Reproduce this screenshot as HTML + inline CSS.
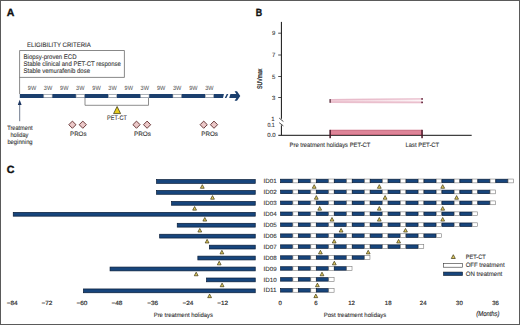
<!DOCTYPE html>
<html><head><meta charset="utf-8"><style>
html,body{margin:0;padding:0;background:#fff;}
#fig{position:relative;width:518px;height:323px;border:1px solid #5a5a5a;overflow:hidden;background:#fff;}
svg{position:absolute;left:-1px;top:-1px;}
svg text{font-family:"Liberation Sans", sans-serif;text-rendering:geometricPrecision;}
</style></head><body>
<div id="fig"><svg width="520" height="325" viewBox="0 0 520 325">
<text x="6.80" y="15.80" font-size="10.4" fill="#111" stroke="#111" stroke-width="0.35" text-anchor="start" font-weight="bold" font-style="normal" textLength="7.60" lengthAdjust="spacingAndGlyphs">A</text>
<text x="27.00" y="46.80" font-size="6.5" fill="#333" stroke="#333" stroke-width="0.1" text-anchor="start" font-weight="normal" font-style="normal" textLength="63.80" lengthAdjust="spacingAndGlyphs">ELIGIBILITY CRITERIA</text>
<path d="M19.6,94 V50.5 H124.4 V77.4 H19.6" fill="none" stroke="#6a6a6a" stroke-width="0.8"/>
<text x="23.60" y="58.50" font-size="6.7" fill="#333" stroke="#333" stroke-width="0.1" text-anchor="start" font-weight="normal" font-style="normal" textLength="53.00" lengthAdjust="spacingAndGlyphs">Biopsy-proven ECD</text>
<text x="23.60" y="65.90" font-size="6.7" fill="#333" stroke="#333" stroke-width="0.1" text-anchor="start" font-weight="normal" font-style="normal" textLength="97.20" lengthAdjust="spacingAndGlyphs">Stable clinical and PET-CT response</text>
<text x="23.60" y="73.20" font-size="6.7" fill="#333" stroke="#333" stroke-width="0.1" text-anchor="start" font-weight="normal" font-style="normal" textLength="66.40" lengthAdjust="spacingAndGlyphs">Stable vemurafenib dose</text>
<polygon points="19.8,93.9 223.9,93.9 223.0,98.0 19.8,98.0" fill="#1b3f6e"/>
<rect x="43.80" y="94.40" width="8.3" height="3.10" fill="#fff" stroke="#b0b0b0" stroke-width="0.6"/>
<rect x="76.10" y="94.40" width="8.3" height="3.10" fill="#fff" stroke="#b0b0b0" stroke-width="0.6"/>
<rect x="108.40" y="94.40" width="8.3" height="3.10" fill="#fff" stroke="#b0b0b0" stroke-width="0.6"/>
<rect x="140.70" y="94.40" width="8.3" height="3.10" fill="#fff" stroke="#b0b0b0" stroke-width="0.6"/>
<rect x="173.00" y="94.40" width="8.3" height="3.10" fill="#fff" stroke="#b0b0b0" stroke-width="0.6"/>
<rect x="205.30" y="94.40" width="8.3" height="3.10" fill="#fff" stroke="#b0b0b0" stroke-width="0.6"/>
<polygon points="226.7,93.9 228.3,93.9 226.4,98.0 224.8,98.0" fill="#1b3f6e"/>
<polygon points="230.4,93.9 236.3,93.9 234.6,91.3 237.0,91.3 240.3,95.95 237.0,100.7 234.6,100.7 236.3,98.0 229.2,98.0" fill="#1b3f6e"/>
<text x="32.00" y="90.20" font-size="6.2" fill="#5a5a5a" stroke="#5a5a5a" stroke-width="0.05" text-anchor="middle" font-weight="normal" font-style="normal" textLength="8.40" lengthAdjust="spacingAndGlyphs">9W</text>
<text x="48.00" y="90.20" font-size="6.2" fill="#5a5a5a" stroke="#5a5a5a" stroke-width="0.05" text-anchor="middle" font-weight="normal" font-style="normal" textLength="8.40" lengthAdjust="spacingAndGlyphs">3W</text>
<text x="64.27" y="90.20" font-size="6.2" fill="#5a5a5a" stroke="#5a5a5a" stroke-width="0.05" text-anchor="middle" font-weight="normal" font-style="normal" textLength="8.40" lengthAdjust="spacingAndGlyphs">9W</text>
<text x="80.27" y="90.20" font-size="6.2" fill="#5a5a5a" stroke="#5a5a5a" stroke-width="0.05" text-anchor="middle" font-weight="normal" font-style="normal" textLength="8.40" lengthAdjust="spacingAndGlyphs">3W</text>
<text x="96.54" y="90.20" font-size="6.2" fill="#5a5a5a" stroke="#5a5a5a" stroke-width="0.05" text-anchor="middle" font-weight="normal" font-style="normal" textLength="8.40" lengthAdjust="spacingAndGlyphs">9W</text>
<text x="112.54" y="90.20" font-size="6.2" fill="#5a5a5a" stroke="#5a5a5a" stroke-width="0.05" text-anchor="middle" font-weight="normal" font-style="normal" textLength="8.40" lengthAdjust="spacingAndGlyphs">3W</text>
<text x="128.81" y="90.20" font-size="6.2" fill="#5a5a5a" stroke="#5a5a5a" stroke-width="0.05" text-anchor="middle" font-weight="normal" font-style="normal" textLength="8.40" lengthAdjust="spacingAndGlyphs">9W</text>
<text x="144.81" y="90.20" font-size="6.2" fill="#5a5a5a" stroke="#5a5a5a" stroke-width="0.05" text-anchor="middle" font-weight="normal" font-style="normal" textLength="8.40" lengthAdjust="spacingAndGlyphs">3W</text>
<text x="161.08" y="90.20" font-size="6.2" fill="#5a5a5a" stroke="#5a5a5a" stroke-width="0.05" text-anchor="middle" font-weight="normal" font-style="normal" textLength="8.40" lengthAdjust="spacingAndGlyphs">9W</text>
<text x="177.08" y="90.20" font-size="6.2" fill="#5a5a5a" stroke="#5a5a5a" stroke-width="0.05" text-anchor="middle" font-weight="normal" font-style="normal" textLength="8.40" lengthAdjust="spacingAndGlyphs">3W</text>
<text x="193.35" y="90.20" font-size="6.2" fill="#5a5a5a" stroke="#5a5a5a" stroke-width="0.05" text-anchor="middle" font-weight="normal" font-style="normal" textLength="8.40" lengthAdjust="spacingAndGlyphs">9W</text>
<text x="209.35" y="90.20" font-size="6.2" fill="#5a5a5a" stroke="#5a5a5a" stroke-width="0.05" text-anchor="middle" font-weight="normal" font-style="normal" textLength="8.40" lengthAdjust="spacingAndGlyphs">3W</text>
<path d="M85,98 V105.3 H148.5 V98" fill="none" stroke="#7a7a7a" stroke-width="0.85"/>
<polygon points="117.10,106.50 113.60,113.60 120.60,113.60" fill="#e6cc1e" stroke="#3a3410" stroke-width="0.75" stroke-linejoin="round"/>
<text x="107.10" y="120.40" font-size="6.6" fill="#333" stroke="#333" stroke-width="0.1" text-anchor="start" font-weight="normal" font-style="normal" textLength="19.80" lengthAdjust="spacingAndGlyphs">PET-CT</text>
<polygon points="72.4,121.10000000000001 76.0,124.7 72.4,128.3 68.80000000000001,124.7" fill="#ebc8c8" stroke="#5e2a2a" stroke-width="0.9"/>
<polygon points="82.8,121.10000000000001 86.39999999999999,124.7 82.8,128.3 79.2,124.7" fill="#ebc8c8" stroke="#5e2a2a" stroke-width="0.9"/>
<polygon points="136.5,121.10000000000001 140.1,124.7 136.5,128.3 132.9,124.7" fill="#ebc8c8" stroke="#5e2a2a" stroke-width="0.9"/>
<polygon points="147.1,121.10000000000001 150.7,124.7 147.1,128.3 143.5,124.7" fill="#ebc8c8" stroke="#5e2a2a" stroke-width="0.9"/>
<polygon points="203.7,121.10000000000001 207.29999999999998,124.7 203.7,128.3 200.1,124.7" fill="#ebc8c8" stroke="#5e2a2a" stroke-width="0.9"/>
<polygon points="214.0,121.10000000000001 217.6,124.7 214.0,128.3 210.4,124.7" fill="#ebc8c8" stroke="#5e2a2a" stroke-width="0.9"/>
<text x="70.00" y="135.80" font-size="6.4" fill="#333" stroke="#333" stroke-width="0.1" text-anchor="start" font-weight="normal" font-style="normal" textLength="16.50" lengthAdjust="spacingAndGlyphs">PROs</text>
<text x="134.00" y="135.80" font-size="6.4" fill="#333" stroke="#333" stroke-width="0.1" text-anchor="start" font-weight="normal" font-style="normal" textLength="17.00" lengthAdjust="spacingAndGlyphs">PROs</text>
<text x="201.20" y="135.80" font-size="6.4" fill="#333" stroke="#333" stroke-width="0.1" text-anchor="start" font-weight="normal" font-style="normal" textLength="16.80" lengthAdjust="spacingAndGlyphs">PROs</text>
<line x1="19.7" y1="121.2" x2="19.7" y2="104" stroke="#4a5870" stroke-width="0.8"/>
<polygon points="19.7,99.8 17.8,104.9 21.6,104.9" fill="#1b3560"/>
<text x="7.20" y="130.20" font-size="6.3" fill="#333" stroke="#333" stroke-width="0.1" text-anchor="start" font-weight="normal" font-style="normal" textLength="25.40" lengthAdjust="spacingAndGlyphs">Treatment</text>
<text x="10.40" y="137.20" font-size="6.3" fill="#333" stroke="#333" stroke-width="0.1" text-anchor="start" font-weight="normal" font-style="normal" textLength="18.00" lengthAdjust="spacingAndGlyphs">holiday</text>
<text x="7.40" y="144.20" font-size="6.3" fill="#333" stroke="#333" stroke-width="0.1" text-anchor="start" font-weight="normal" font-style="normal" textLength="25.20" lengthAdjust="spacingAndGlyphs">beginning</text>
<text x="255.70" y="15.90" font-size="10.4" fill="#111" stroke="#111" stroke-width="0.35" text-anchor="start" font-weight="bold" font-style="normal" textLength="6.40" lengthAdjust="spacingAndGlyphs">B</text>
<line x1="281.4" y1="21.9" x2="281.4" y2="118.8" stroke="#111" stroke-width="1.0"/>
<line x1="281.4" y1="125.3" x2="281.4" y2="135.1" stroke="#111" stroke-width="1.0"/>
<line x1="279.2" y1="118.1" x2="283.4" y2="121.5" stroke="#222" stroke-width="0.8"/>
<line x1="279.2" y1="122.7" x2="283.4" y2="125.9" stroke="#222" stroke-width="0.8"/>
<line x1="278.2" y1="33.2" x2="281.4" y2="33.2" stroke="#222" stroke-width="0.8"/>
<text x="275.30" y="35.30" font-size="6.0" fill="#333" stroke="#333" stroke-width="0.1" text-anchor="end" font-weight="normal" font-style="normal">9</text>
<line x1="278.2" y1="55.0" x2="281.4" y2="55.0" stroke="#222" stroke-width="0.8"/>
<text x="275.30" y="57.10" font-size="6.0" fill="#333" stroke="#333" stroke-width="0.1" text-anchor="end" font-weight="normal" font-style="normal">7</text>
<line x1="278.2" y1="76.5" x2="281.4" y2="76.5" stroke="#222" stroke-width="0.8"/>
<text x="275.30" y="78.60" font-size="6.0" fill="#333" stroke="#333" stroke-width="0.1" text-anchor="end" font-weight="normal" font-style="normal">5</text>
<line x1="278.2" y1="97.5" x2="281.4" y2="97.5" stroke="#222" stroke-width="0.8"/>
<text x="275.30" y="99.60" font-size="6.0" fill="#333" stroke="#333" stroke-width="0.1" text-anchor="end" font-weight="normal" font-style="normal">3</text>
<text x="274.60" y="120.80" font-size="6.0" fill="#333" stroke="#333" stroke-width="0.1" text-anchor="end" font-weight="normal" font-style="normal">1</text>
<text x="274.80" y="127.10" font-size="6.0" fill="#333" stroke="#333" stroke-width="0.1" text-anchor="end" font-weight="normal" font-style="normal" textLength="7.40" lengthAdjust="spacingAndGlyphs">0.1</text>
<text x="275.70" y="137.10" font-size="6.0" fill="#333" stroke="#333" stroke-width="0.1" text-anchor="end" font-weight="normal" font-style="normal" textLength="8.40" lengthAdjust="spacingAndGlyphs">0.0</text>
<line x1="278.3" y1="135.3" x2="471.7" y2="135.3" stroke="#111" stroke-width="1.0"/>
<text x="0" y="0" font-size="6.8" fill="#2a2a2a" stroke="#2a2a2a" stroke-width="0.3" text-anchor="middle" transform="translate(261.5,78.8) rotate(-90)" textLength="20.3" lengthAdjust="spacingAndGlyphs">SUVmax</text>
<defs><linearGradient id="pg" x1="0" x2="1" y1="0" y2="0"><stop offset="0" stop-color="#f1ccd7"/><stop offset="0.5" stop-color="#f6e0e7"/><stop offset="1" stop-color="#fdf6f8"/></linearGradient></defs>
<polygon points="330.5,99.0 422.2,98.3 422.2,103.5 330.5,102.9" fill="url(#pg)"/>
<line x1="330.5" y1="99.6" x2="422.2" y2="98.9" stroke="#e8bccb" stroke-width="1.1"/>
<line x1="330.5" y1="102.2" x2="422.2" y2="102.3" stroke="#eabfcd" stroke-width="1.8"/>
<rect x="421.3" y="98.2" width="1.6" height="1.5" fill="#5a1a30"/>
<rect x="421.3" y="101.6" width="1.6" height="1.6" fill="#5a1a30"/>
<rect x="329.5" y="99.1" width="1.2" height="3.7" fill="#4a1828"/>
<rect x="330.5" y="129.8" width="91.7" height="5.2" fill="#de8498"/>
<line x1="330.5" y1="130.4" x2="422.2" y2="130.4" stroke="#c97487" stroke-width="0.9"/>
<line x1="330.5" y1="134.6" x2="422.2" y2="134.6" stroke="#b05468" stroke-width="0.6"/>
<rect x="329.4" y="129.8" width="1.5" height="8.4" fill="#4a1626"/>
<rect x="421.3" y="129.8" width="1.5" height="8.4" fill="#4a1626"/>
<text x="289.60" y="146.60" font-size="6.3" fill="#333" stroke="#333" stroke-width="0.1" text-anchor="start" font-weight="normal" font-style="normal" textLength="80.80" lengthAdjust="spacingAndGlyphs">Pre treatment holidays PET-CT</text>
<text x="405.50" y="146.60" font-size="6.3" fill="#333" stroke="#333" stroke-width="0.1" text-anchor="start" font-weight="normal" font-style="normal" textLength="33.70" lengthAdjust="spacingAndGlyphs">Last PET-CT</text>
<text x="6.80" y="173.00" font-size="10.4" fill="#111" stroke="#111" stroke-width="0.35" text-anchor="start" font-weight="bold" font-style="normal" textLength="7.70" lengthAdjust="spacingAndGlyphs">C</text>
<rect x="156.55" y="179.55" width="98.70" height="3.80" fill="#17457c" stroke="#081c38" stroke-width="0.7"/>
<rect x="280.65" y="179.20" width="11.90" height="3.50" fill="#17457c" stroke="#081c38" stroke-width="0.7"/>
<rect x="292.90" y="179.05" width="5.33" height="3.80" fill="#fff" stroke="#7a7a7a" stroke-width="0.6"/>
<rect x="298.58" y="179.20" width="11.90" height="3.50" fill="#17457c" stroke="#081c38" stroke-width="0.7"/>
<rect x="310.83" y="179.05" width="5.33" height="3.80" fill="#fff" stroke="#7a7a7a" stroke-width="0.6"/>
<rect x="316.51" y="179.20" width="11.90" height="3.50" fill="#17457c" stroke="#081c38" stroke-width="0.7"/>
<rect x="328.76" y="179.05" width="5.33" height="3.80" fill="#fff" stroke="#7a7a7a" stroke-width="0.6"/>
<rect x="334.44" y="179.20" width="11.90" height="3.50" fill="#17457c" stroke="#081c38" stroke-width="0.7"/>
<rect x="346.69" y="179.05" width="5.33" height="3.80" fill="#fff" stroke="#7a7a7a" stroke-width="0.6"/>
<rect x="352.37" y="179.20" width="11.90" height="3.50" fill="#17457c" stroke="#081c38" stroke-width="0.7"/>
<rect x="364.62" y="179.05" width="5.33" height="3.80" fill="#fff" stroke="#7a7a7a" stroke-width="0.6"/>
<rect x="370.30" y="179.20" width="11.90" height="3.50" fill="#17457c" stroke="#081c38" stroke-width="0.7"/>
<rect x="382.55" y="179.05" width="5.33" height="3.80" fill="#fff" stroke="#7a7a7a" stroke-width="0.6"/>
<rect x="388.23" y="179.20" width="11.90" height="3.50" fill="#17457c" stroke="#081c38" stroke-width="0.7"/>
<rect x="400.48" y="179.05" width="5.33" height="3.80" fill="#fff" stroke="#7a7a7a" stroke-width="0.6"/>
<rect x="406.16" y="179.20" width="11.90" height="3.50" fill="#17457c" stroke="#081c38" stroke-width="0.7"/>
<rect x="418.41" y="179.05" width="5.33" height="3.80" fill="#fff" stroke="#7a7a7a" stroke-width="0.6"/>
<rect x="424.09" y="179.20" width="11.90" height="3.50" fill="#17457c" stroke="#081c38" stroke-width="0.7"/>
<rect x="436.34" y="179.05" width="5.33" height="3.80" fill="#fff" stroke="#7a7a7a" stroke-width="0.6"/>
<rect x="442.02" y="179.20" width="11.90" height="3.50" fill="#17457c" stroke="#081c38" stroke-width="0.7"/>
<rect x="454.27" y="179.05" width="5.33" height="3.80" fill="#fff" stroke="#7a7a7a" stroke-width="0.6"/>
<rect x="459.95" y="179.20" width="11.90" height="3.50" fill="#17457c" stroke="#081c38" stroke-width="0.7"/>
<rect x="472.20" y="179.05" width="5.33" height="3.80" fill="#fff" stroke="#7a7a7a" stroke-width="0.6"/>
<rect x="477.88" y="179.20" width="11.90" height="3.50" fill="#17457c" stroke="#081c38" stroke-width="0.7"/>
<rect x="490.13" y="179.05" width="5.33" height="3.80" fill="#fff" stroke="#7a7a7a" stroke-width="0.6"/>
<rect x="495.81" y="179.20" width="11.90" height="3.50" fill="#17457c" stroke="#081c38" stroke-width="0.7"/>
<rect x="508.06" y="179.05" width="5.33" height="3.80" fill="#fff" stroke="#7a7a7a" stroke-width="0.6"/>
<text x="263.60" y="183.05" font-size="6.0" fill="#333" stroke="#333" stroke-width="0.1" text-anchor="start" font-weight="normal" font-style="normal" textLength="13.10" lengthAdjust="spacingAndGlyphs">ID01</text>
<polygon points="202.30,184.65 200.40,188.25 204.20,188.25" fill="#e2cc5e" stroke="#3b3412" stroke-width="0.7" stroke-linejoin="round"/>
<polygon points="314.20,184.65 312.30,188.25 316.10,188.25" fill="#e2cc5e" stroke="#3b3412" stroke-width="0.7" stroke-linejoin="round"/>
<polygon points="379.30,184.65 377.40,188.25 381.20,188.25" fill="#e2cc5e" stroke="#3b3412" stroke-width="0.7" stroke-linejoin="round"/>
<polygon points="442.70,184.65 440.80,188.25 444.60,188.25" fill="#e2cc5e" stroke="#3b3412" stroke-width="0.7" stroke-linejoin="round"/>
<rect x="156.55" y="190.49" width="98.70" height="3.80" fill="#17457c" stroke="#081c38" stroke-width="0.7"/>
<rect x="280.65" y="190.14" width="11.90" height="3.50" fill="#17457c" stroke="#081c38" stroke-width="0.7"/>
<rect x="292.90" y="189.99" width="5.33" height="3.80" fill="#fff" stroke="#7a7a7a" stroke-width="0.6"/>
<rect x="298.58" y="190.14" width="11.90" height="3.50" fill="#17457c" stroke="#081c38" stroke-width="0.7"/>
<rect x="310.83" y="189.99" width="5.33" height="3.80" fill="#fff" stroke="#7a7a7a" stroke-width="0.6"/>
<rect x="316.51" y="190.14" width="11.90" height="3.50" fill="#17457c" stroke="#081c38" stroke-width="0.7"/>
<rect x="328.76" y="189.99" width="5.33" height="3.80" fill="#fff" stroke="#7a7a7a" stroke-width="0.6"/>
<rect x="334.44" y="190.14" width="11.90" height="3.50" fill="#17457c" stroke="#081c38" stroke-width="0.7"/>
<rect x="346.69" y="189.99" width="5.33" height="3.80" fill="#fff" stroke="#7a7a7a" stroke-width="0.6"/>
<rect x="352.37" y="190.14" width="11.90" height="3.50" fill="#17457c" stroke="#081c38" stroke-width="0.7"/>
<rect x="364.62" y="189.99" width="5.33" height="3.80" fill="#fff" stroke="#7a7a7a" stroke-width="0.6"/>
<rect x="370.30" y="190.14" width="11.90" height="3.50" fill="#17457c" stroke="#081c38" stroke-width="0.7"/>
<rect x="382.55" y="189.99" width="5.33" height="3.80" fill="#fff" stroke="#7a7a7a" stroke-width="0.6"/>
<rect x="388.23" y="190.14" width="11.90" height="3.50" fill="#17457c" stroke="#081c38" stroke-width="0.7"/>
<rect x="400.48" y="189.99" width="5.33" height="3.80" fill="#fff" stroke="#7a7a7a" stroke-width="0.6"/>
<rect x="406.16" y="190.14" width="11.90" height="3.50" fill="#17457c" stroke="#081c38" stroke-width="0.7"/>
<rect x="418.41" y="189.99" width="5.33" height="3.80" fill="#fff" stroke="#7a7a7a" stroke-width="0.6"/>
<rect x="424.09" y="190.14" width="11.90" height="3.50" fill="#17457c" stroke="#081c38" stroke-width="0.7"/>
<rect x="436.34" y="189.99" width="5.33" height="3.80" fill="#fff" stroke="#7a7a7a" stroke-width="0.6"/>
<rect x="442.02" y="190.14" width="11.90" height="3.50" fill="#17457c" stroke="#081c38" stroke-width="0.7"/>
<rect x="454.27" y="189.99" width="5.33" height="3.80" fill="#fff" stroke="#7a7a7a" stroke-width="0.6"/>
<rect x="459.95" y="190.14" width="11.90" height="3.50" fill="#17457c" stroke="#081c38" stroke-width="0.7"/>
<rect x="472.20" y="189.99" width="5.33" height="3.80" fill="#fff" stroke="#7a7a7a" stroke-width="0.6"/>
<rect x="477.88" y="190.14" width="11.90" height="3.50" fill="#17457c" stroke="#081c38" stroke-width="0.7"/>
<rect x="490.13" y="189.99" width="5.33" height="3.80" fill="#fff" stroke="#7a7a7a" stroke-width="0.6"/>
<text x="263.60" y="193.99" font-size="6.0" fill="#333" stroke="#333" stroke-width="0.1" text-anchor="start" font-weight="normal" font-style="normal" textLength="13.10" lengthAdjust="spacingAndGlyphs">ID02</text>
<polygon points="212.50,195.59 210.60,199.19 214.40,199.19" fill="#e2cc5e" stroke="#3b3412" stroke-width="0.7" stroke-linejoin="round"/>
<polygon points="316.30,195.59 314.40,199.19 318.20,199.19" fill="#e2cc5e" stroke="#3b3412" stroke-width="0.7" stroke-linejoin="round"/>
<polygon points="385.10,195.59 383.20,199.19 387.00,199.19" fill="#e2cc5e" stroke="#3b3412" stroke-width="0.7" stroke-linejoin="round"/>
<polygon points="456.60,195.59 454.70,199.19 458.50,199.19" fill="#e2cc5e" stroke="#3b3412" stroke-width="0.7" stroke-linejoin="round"/>
<rect x="171.55" y="201.43" width="83.70" height="3.80" fill="#17457c" stroke="#081c38" stroke-width="0.7"/>
<rect x="280.65" y="201.08" width="11.90" height="3.50" fill="#17457c" stroke="#081c38" stroke-width="0.7"/>
<rect x="292.90" y="200.93" width="5.33" height="3.80" fill="#fff" stroke="#7a7a7a" stroke-width="0.6"/>
<rect x="298.58" y="201.08" width="11.90" height="3.50" fill="#17457c" stroke="#081c38" stroke-width="0.7"/>
<rect x="310.83" y="200.93" width="5.33" height="3.80" fill="#fff" stroke="#7a7a7a" stroke-width="0.6"/>
<rect x="316.51" y="201.08" width="11.90" height="3.50" fill="#17457c" stroke="#081c38" stroke-width="0.7"/>
<rect x="328.76" y="200.93" width="5.33" height="3.80" fill="#fff" stroke="#7a7a7a" stroke-width="0.6"/>
<rect x="334.44" y="201.08" width="11.90" height="3.50" fill="#17457c" stroke="#081c38" stroke-width="0.7"/>
<rect x="346.69" y="200.93" width="5.33" height="3.80" fill="#fff" stroke="#7a7a7a" stroke-width="0.6"/>
<rect x="352.37" y="201.08" width="11.90" height="3.50" fill="#17457c" stroke="#081c38" stroke-width="0.7"/>
<rect x="364.62" y="200.93" width="5.33" height="3.80" fill="#fff" stroke="#7a7a7a" stroke-width="0.6"/>
<rect x="370.30" y="201.08" width="11.90" height="3.50" fill="#17457c" stroke="#081c38" stroke-width="0.7"/>
<rect x="382.55" y="200.93" width="5.33" height="3.80" fill="#fff" stroke="#7a7a7a" stroke-width="0.6"/>
<rect x="388.23" y="201.08" width="11.90" height="3.50" fill="#17457c" stroke="#081c38" stroke-width="0.7"/>
<rect x="400.48" y="200.93" width="5.33" height="3.80" fill="#fff" stroke="#7a7a7a" stroke-width="0.6"/>
<rect x="406.16" y="201.08" width="11.90" height="3.50" fill="#17457c" stroke="#081c38" stroke-width="0.7"/>
<rect x="418.41" y="200.93" width="5.33" height="3.80" fill="#fff" stroke="#7a7a7a" stroke-width="0.6"/>
<rect x="424.09" y="201.08" width="11.90" height="3.50" fill="#17457c" stroke="#081c38" stroke-width="0.7"/>
<rect x="436.34" y="200.93" width="5.33" height="3.80" fill="#fff" stroke="#7a7a7a" stroke-width="0.6"/>
<rect x="442.02" y="201.08" width="11.90" height="3.50" fill="#17457c" stroke="#081c38" stroke-width="0.7"/>
<rect x="454.27" y="200.93" width="5.33" height="3.80" fill="#fff" stroke="#7a7a7a" stroke-width="0.6"/>
<rect x="459.95" y="201.08" width="11.90" height="3.50" fill="#17457c" stroke="#081c38" stroke-width="0.7"/>
<rect x="472.20" y="200.93" width="5.33" height="3.80" fill="#fff" stroke="#7a7a7a" stroke-width="0.6"/>
<rect x="477.88" y="201.08" width="11.90" height="3.50" fill="#17457c" stroke="#081c38" stroke-width="0.7"/>
<rect x="490.13" y="200.93" width="5.33" height="3.80" fill="#fff" stroke="#7a7a7a" stroke-width="0.6"/>
<text x="263.60" y="204.93" font-size="6.0" fill="#333" stroke="#333" stroke-width="0.1" text-anchor="start" font-weight="normal" font-style="normal" textLength="13.10" lengthAdjust="spacingAndGlyphs">ID03</text>
<polygon points="194.60,206.53 192.70,210.13 196.50,210.13" fill="#e2cc5e" stroke="#3b3412" stroke-width="0.7" stroke-linejoin="round"/>
<polygon points="319.70,206.53 317.80,210.13 321.60,210.13" fill="#e2cc5e" stroke="#3b3412" stroke-width="0.7" stroke-linejoin="round"/>
<polygon points="379.30,206.53 377.40,210.13 381.20,210.13" fill="#e2cc5e" stroke="#3b3412" stroke-width="0.7" stroke-linejoin="round"/>
<polygon points="442.70,206.53 440.80,210.13 444.60,210.13" fill="#e2cc5e" stroke="#3b3412" stroke-width="0.7" stroke-linejoin="round"/>
<rect x="13.25" y="212.37" width="242.00" height="3.80" fill="#17457c" stroke="#081c38" stroke-width="0.7"/>
<rect x="280.65" y="212.02" width="11.90" height="3.50" fill="#17457c" stroke="#081c38" stroke-width="0.7"/>
<rect x="292.90" y="211.87" width="5.33" height="3.80" fill="#fff" stroke="#7a7a7a" stroke-width="0.6"/>
<rect x="298.58" y="212.02" width="11.90" height="3.50" fill="#17457c" stroke="#081c38" stroke-width="0.7"/>
<rect x="310.83" y="211.87" width="5.33" height="3.80" fill="#fff" stroke="#7a7a7a" stroke-width="0.6"/>
<rect x="316.51" y="212.02" width="11.90" height="3.50" fill="#17457c" stroke="#081c38" stroke-width="0.7"/>
<rect x="328.76" y="211.87" width="5.33" height="3.80" fill="#fff" stroke="#7a7a7a" stroke-width="0.6"/>
<rect x="334.44" y="212.02" width="11.90" height="3.50" fill="#17457c" stroke="#081c38" stroke-width="0.7"/>
<rect x="346.69" y="211.87" width="5.33" height="3.80" fill="#fff" stroke="#7a7a7a" stroke-width="0.6"/>
<rect x="352.37" y="212.02" width="11.90" height="3.50" fill="#17457c" stroke="#081c38" stroke-width="0.7"/>
<rect x="364.62" y="211.87" width="5.33" height="3.80" fill="#fff" stroke="#7a7a7a" stroke-width="0.6"/>
<rect x="370.30" y="212.02" width="11.90" height="3.50" fill="#17457c" stroke="#081c38" stroke-width="0.7"/>
<rect x="382.55" y="211.87" width="5.33" height="3.80" fill="#fff" stroke="#7a7a7a" stroke-width="0.6"/>
<rect x="388.23" y="212.02" width="11.90" height="3.50" fill="#17457c" stroke="#081c38" stroke-width="0.7"/>
<rect x="400.48" y="211.87" width="5.33" height="3.80" fill="#fff" stroke="#7a7a7a" stroke-width="0.6"/>
<rect x="406.16" y="212.02" width="11.90" height="3.50" fill="#17457c" stroke="#081c38" stroke-width="0.7"/>
<rect x="418.41" y="211.87" width="5.33" height="3.80" fill="#fff" stroke="#7a7a7a" stroke-width="0.6"/>
<rect x="424.09" y="212.02" width="11.90" height="3.50" fill="#17457c" stroke="#081c38" stroke-width="0.7"/>
<rect x="436.34" y="211.87" width="5.33" height="3.80" fill="#fff" stroke="#7a7a7a" stroke-width="0.6"/>
<rect x="442.02" y="212.02" width="11.90" height="3.50" fill="#17457c" stroke="#081c38" stroke-width="0.7"/>
<rect x="454.27" y="211.87" width="5.33" height="3.80" fill="#fff" stroke="#7a7a7a" stroke-width="0.6"/>
<rect x="459.95" y="212.02" width="11.90" height="3.50" fill="#17457c" stroke="#081c38" stroke-width="0.7"/>
<rect x="472.20" y="211.87" width="5.33" height="3.80" fill="#fff" stroke="#7a7a7a" stroke-width="0.6"/>
<text x="263.60" y="215.87" font-size="6.0" fill="#333" stroke="#333" stroke-width="0.1" text-anchor="start" font-weight="normal" font-style="normal" textLength="13.10" lengthAdjust="spacingAndGlyphs">ID04</text>
<polygon points="204.80,217.47 202.90,221.07 206.70,221.07" fill="#e2cc5e" stroke="#3b3412" stroke-width="0.7" stroke-linejoin="round"/>
<polygon points="332.00,217.47 330.10,221.07 333.90,221.07" fill="#e2cc5e" stroke="#3b3412" stroke-width="0.7" stroke-linejoin="round"/>
<polygon points="379.30,217.47 377.40,221.07 381.20,221.07" fill="#e2cc5e" stroke="#3b3412" stroke-width="0.7" stroke-linejoin="round"/>
<polygon points="442.70,217.47 440.80,221.07 444.60,221.07" fill="#e2cc5e" stroke="#3b3412" stroke-width="0.7" stroke-linejoin="round"/>
<rect x="177.25" y="223.31" width="78.00" height="3.80" fill="#17457c" stroke="#081c38" stroke-width="0.7"/>
<rect x="280.65" y="222.96" width="11.90" height="3.50" fill="#17457c" stroke="#081c38" stroke-width="0.7"/>
<rect x="292.90" y="222.81" width="5.33" height="3.80" fill="#fff" stroke="#7a7a7a" stroke-width="0.6"/>
<rect x="298.58" y="222.96" width="11.90" height="3.50" fill="#17457c" stroke="#081c38" stroke-width="0.7"/>
<rect x="310.83" y="222.81" width="5.33" height="3.80" fill="#fff" stroke="#7a7a7a" stroke-width="0.6"/>
<rect x="316.51" y="222.96" width="11.90" height="3.50" fill="#17457c" stroke="#081c38" stroke-width="0.7"/>
<rect x="328.76" y="222.81" width="5.33" height="3.80" fill="#fff" stroke="#7a7a7a" stroke-width="0.6"/>
<rect x="334.44" y="222.96" width="11.90" height="3.50" fill="#17457c" stroke="#081c38" stroke-width="0.7"/>
<rect x="346.69" y="222.81" width="5.33" height="3.80" fill="#fff" stroke="#7a7a7a" stroke-width="0.6"/>
<rect x="352.37" y="222.96" width="11.90" height="3.50" fill="#17457c" stroke="#081c38" stroke-width="0.7"/>
<rect x="364.62" y="222.81" width="5.33" height="3.80" fill="#fff" stroke="#7a7a7a" stroke-width="0.6"/>
<rect x="370.30" y="222.96" width="11.90" height="3.50" fill="#17457c" stroke="#081c38" stroke-width="0.7"/>
<rect x="382.55" y="222.81" width="5.33" height="3.80" fill="#fff" stroke="#7a7a7a" stroke-width="0.6"/>
<rect x="388.23" y="222.96" width="11.90" height="3.50" fill="#17457c" stroke="#081c38" stroke-width="0.7"/>
<rect x="400.48" y="222.81" width="5.33" height="3.80" fill="#fff" stroke="#7a7a7a" stroke-width="0.6"/>
<rect x="406.16" y="222.96" width="11.90" height="3.50" fill="#17457c" stroke="#081c38" stroke-width="0.7"/>
<rect x="418.41" y="222.81" width="5.33" height="3.80" fill="#fff" stroke="#7a7a7a" stroke-width="0.6"/>
<rect x="424.09" y="222.96" width="11.90" height="3.50" fill="#17457c" stroke="#081c38" stroke-width="0.7"/>
<rect x="436.34" y="222.81" width="5.33" height="3.80" fill="#fff" stroke="#7a7a7a" stroke-width="0.6"/>
<rect x="442.02" y="222.96" width="11.90" height="3.50" fill="#17457c" stroke="#081c38" stroke-width="0.7"/>
<rect x="454.27" y="222.81" width="5.33" height="3.80" fill="#fff" stroke="#7a7a7a" stroke-width="0.6"/>
<rect x="459.95" y="222.96" width="11.90" height="3.50" fill="#17457c" stroke="#081c38" stroke-width="0.7"/>
<rect x="472.20" y="222.81" width="5.33" height="3.80" fill="#fff" stroke="#7a7a7a" stroke-width="0.6"/>
<text x="263.60" y="226.81" font-size="6.0" fill="#333" stroke="#333" stroke-width="0.1" text-anchor="start" font-weight="normal" font-style="normal" textLength="13.10" lengthAdjust="spacingAndGlyphs">ID05</text>
<polygon points="199.80,228.41 197.90,232.01 201.70,232.01" fill="#e2cc5e" stroke="#3b3412" stroke-width="0.7" stroke-linejoin="round"/>
<polygon points="341.10,228.41 339.20,232.01 343.00,232.01" fill="#e2cc5e" stroke="#3b3412" stroke-width="0.7" stroke-linejoin="round"/>
<polygon points="405.50,228.41 403.60,232.01 407.40,232.01" fill="#e2cc5e" stroke="#3b3412" stroke-width="0.7" stroke-linejoin="round"/>
<rect x="159.65" y="234.25" width="95.60" height="3.80" fill="#17457c" stroke="#081c38" stroke-width="0.7"/>
<rect x="280.65" y="233.90" width="11.90" height="3.50" fill="#17457c" stroke="#081c38" stroke-width="0.7"/>
<rect x="292.90" y="233.75" width="5.33" height="3.80" fill="#fff" stroke="#7a7a7a" stroke-width="0.6"/>
<rect x="298.58" y="233.90" width="11.90" height="3.50" fill="#17457c" stroke="#081c38" stroke-width="0.7"/>
<rect x="310.83" y="233.75" width="5.33" height="3.80" fill="#fff" stroke="#7a7a7a" stroke-width="0.6"/>
<rect x="316.51" y="233.90" width="11.90" height="3.50" fill="#17457c" stroke="#081c38" stroke-width="0.7"/>
<rect x="328.76" y="233.75" width="5.33" height="3.80" fill="#fff" stroke="#7a7a7a" stroke-width="0.6"/>
<rect x="334.44" y="233.90" width="11.90" height="3.50" fill="#17457c" stroke="#081c38" stroke-width="0.7"/>
<rect x="346.69" y="233.75" width="5.33" height="3.80" fill="#fff" stroke="#7a7a7a" stroke-width="0.6"/>
<rect x="352.37" y="233.90" width="11.90" height="3.50" fill="#17457c" stroke="#081c38" stroke-width="0.7"/>
<rect x="364.62" y="233.75" width="5.33" height="3.80" fill="#fff" stroke="#7a7a7a" stroke-width="0.6"/>
<rect x="370.30" y="233.90" width="11.90" height="3.50" fill="#17457c" stroke="#081c38" stroke-width="0.7"/>
<rect x="382.55" y="233.75" width="5.33" height="3.80" fill="#fff" stroke="#7a7a7a" stroke-width="0.6"/>
<rect x="388.23" y="233.90" width="11.90" height="3.50" fill="#17457c" stroke="#081c38" stroke-width="0.7"/>
<rect x="400.48" y="233.75" width="5.33" height="3.80" fill="#fff" stroke="#7a7a7a" stroke-width="0.6"/>
<rect x="406.16" y="233.90" width="11.90" height="3.50" fill="#17457c" stroke="#081c38" stroke-width="0.7"/>
<rect x="418.41" y="233.75" width="5.33" height="3.80" fill="#fff" stroke="#7a7a7a" stroke-width="0.6"/>
<rect x="424.09" y="233.90" width="11.90" height="3.50" fill="#17457c" stroke="#081c38" stroke-width="0.7"/>
<rect x="436.34" y="233.75" width="5.33" height="3.80" fill="#fff" stroke="#7a7a7a" stroke-width="0.6"/>
<text x="263.60" y="237.75" font-size="6.0" fill="#333" stroke="#333" stroke-width="0.1" text-anchor="start" font-weight="normal" font-style="normal" textLength="13.10" lengthAdjust="spacingAndGlyphs">ID06</text>
<polygon points="207.10,239.35 205.20,242.95 209.00,242.95" fill="#e2cc5e" stroke="#3b3412" stroke-width="0.7" stroke-linejoin="round"/>
<polygon points="334.20,239.35 332.30,242.95 336.10,242.95" fill="#e2cc5e" stroke="#3b3412" stroke-width="0.7" stroke-linejoin="round"/>
<polygon points="398.60,239.35 396.70,242.95 400.50,242.95" fill="#e2cc5e" stroke="#3b3412" stroke-width="0.7" stroke-linejoin="round"/>
<rect x="209.35" y="245.19" width="45.90" height="3.80" fill="#17457c" stroke="#081c38" stroke-width="0.7"/>
<rect x="280.65" y="244.84" width="11.90" height="3.50" fill="#17457c" stroke="#081c38" stroke-width="0.7"/>
<rect x="292.90" y="244.69" width="5.33" height="3.80" fill="#fff" stroke="#7a7a7a" stroke-width="0.6"/>
<rect x="298.58" y="244.84" width="11.90" height="3.50" fill="#17457c" stroke="#081c38" stroke-width="0.7"/>
<rect x="310.83" y="244.69" width="5.33" height="3.80" fill="#fff" stroke="#7a7a7a" stroke-width="0.6"/>
<rect x="316.51" y="244.84" width="11.90" height="3.50" fill="#17457c" stroke="#081c38" stroke-width="0.7"/>
<rect x="328.76" y="244.69" width="5.33" height="3.80" fill="#fff" stroke="#7a7a7a" stroke-width="0.6"/>
<rect x="334.44" y="244.84" width="11.90" height="3.50" fill="#17457c" stroke="#081c38" stroke-width="0.7"/>
<rect x="346.69" y="244.69" width="5.33" height="3.80" fill="#fff" stroke="#7a7a7a" stroke-width="0.6"/>
<rect x="352.37" y="244.84" width="11.90" height="3.50" fill="#17457c" stroke="#081c38" stroke-width="0.7"/>
<rect x="364.62" y="244.69" width="5.33" height="3.80" fill="#fff" stroke="#7a7a7a" stroke-width="0.6"/>
<rect x="370.30" y="244.84" width="11.90" height="3.50" fill="#17457c" stroke="#081c38" stroke-width="0.7"/>
<rect x="382.55" y="244.69" width="5.33" height="3.80" fill="#fff" stroke="#7a7a7a" stroke-width="0.6"/>
<rect x="388.23" y="244.84" width="11.90" height="3.50" fill="#17457c" stroke="#081c38" stroke-width="0.7"/>
<rect x="400.48" y="244.69" width="5.33" height="3.80" fill="#fff" stroke="#7a7a7a" stroke-width="0.6"/>
<rect x="406.16" y="244.84" width="11.90" height="3.50" fill="#17457c" stroke="#081c38" stroke-width="0.7"/>
<rect x="418.41" y="244.69" width="5.33" height="3.80" fill="#fff" stroke="#7a7a7a" stroke-width="0.6"/>
<text x="263.60" y="248.69" font-size="6.0" fill="#333" stroke="#333" stroke-width="0.1" text-anchor="start" font-weight="normal" font-style="normal" textLength="13.10" lengthAdjust="spacingAndGlyphs">ID07</text>
<polygon points="221.90,250.29 220.00,253.89 223.80,253.89" fill="#e2cc5e" stroke="#3b3412" stroke-width="0.7" stroke-linejoin="round"/>
<polygon points="320.40,250.29 318.50,253.89 322.30,253.89" fill="#e2cc5e" stroke="#3b3412" stroke-width="0.7" stroke-linejoin="round"/>
<polygon points="368.20,250.29 366.30,253.89 370.10,253.89" fill="#e2cc5e" stroke="#3b3412" stroke-width="0.7" stroke-linejoin="round"/>
<rect x="197.85" y="256.13" width="57.40" height="3.80" fill="#17457c" stroke="#081c38" stroke-width="0.7"/>
<rect x="280.65" y="255.78" width="11.90" height="3.50" fill="#17457c" stroke="#081c38" stroke-width="0.7"/>
<rect x="292.90" y="255.63" width="5.33" height="3.80" fill="#fff" stroke="#7a7a7a" stroke-width="0.6"/>
<rect x="298.58" y="255.78" width="11.90" height="3.50" fill="#17457c" stroke="#081c38" stroke-width="0.7"/>
<rect x="310.83" y="255.63" width="5.33" height="3.80" fill="#fff" stroke="#7a7a7a" stroke-width="0.6"/>
<rect x="316.51" y="255.78" width="11.90" height="3.50" fill="#17457c" stroke="#081c38" stroke-width="0.7"/>
<rect x="328.76" y="255.63" width="5.33" height="3.80" fill="#fff" stroke="#7a7a7a" stroke-width="0.6"/>
<rect x="334.44" y="255.78" width="11.90" height="3.50" fill="#17457c" stroke="#081c38" stroke-width="0.7"/>
<rect x="346.69" y="255.63" width="5.33" height="3.80" fill="#fff" stroke="#7a7a7a" stroke-width="0.6"/>
<rect x="352.37" y="255.78" width="11.90" height="3.50" fill="#17457c" stroke="#081c38" stroke-width="0.7"/>
<rect x="364.62" y="255.63" width="5.33" height="3.80" fill="#fff" stroke="#7a7a7a" stroke-width="0.6"/>
<text x="263.60" y="259.63" font-size="6.0" fill="#333" stroke="#333" stroke-width="0.1" text-anchor="start" font-weight="normal" font-style="normal" textLength="13.10" lengthAdjust="spacingAndGlyphs">ID08</text>
<polygon points="219.20,261.23 217.30,264.83 221.10,264.83" fill="#e2cc5e" stroke="#3b3412" stroke-width="0.7" stroke-linejoin="round"/>
<polygon points="334.30,261.23 332.40,264.83 336.20,264.83" fill="#e2cc5e" stroke="#3b3412" stroke-width="0.7" stroke-linejoin="round"/>
<rect x="110.05" y="267.07" width="145.20" height="3.80" fill="#17457c" stroke="#081c38" stroke-width="0.7"/>
<rect x="280.65" y="266.72" width="11.90" height="3.50" fill="#17457c" stroke="#081c38" stroke-width="0.7"/>
<rect x="292.90" y="266.57" width="5.33" height="3.80" fill="#fff" stroke="#7a7a7a" stroke-width="0.6"/>
<rect x="298.58" y="266.72" width="11.90" height="3.50" fill="#17457c" stroke="#081c38" stroke-width="0.7"/>
<rect x="310.83" y="266.57" width="5.33" height="3.80" fill="#fff" stroke="#7a7a7a" stroke-width="0.6"/>
<rect x="316.51" y="266.72" width="11.90" height="3.50" fill="#17457c" stroke="#081c38" stroke-width="0.7"/>
<rect x="328.76" y="266.57" width="5.33" height="3.80" fill="#fff" stroke="#7a7a7a" stroke-width="0.6"/>
<rect x="334.44" y="266.72" width="11.90" height="3.50" fill="#17457c" stroke="#081c38" stroke-width="0.7"/>
<rect x="346.69" y="266.57" width="5.33" height="3.80" fill="#fff" stroke="#7a7a7a" stroke-width="0.6"/>
<text x="263.60" y="270.57" font-size="6.0" fill="#333" stroke="#333" stroke-width="0.1" text-anchor="start" font-weight="normal" font-style="normal" textLength="13.10" lengthAdjust="spacingAndGlyphs">ID09</text>
<polygon points="196.20,272.17 194.30,275.77 198.10,275.77" fill="#e2cc5e" stroke="#3b3412" stroke-width="0.7" stroke-linejoin="round"/>
<polygon points="322.00,272.17 320.10,275.77 323.90,275.77" fill="#e2cc5e" stroke="#3b3412" stroke-width="0.7" stroke-linejoin="round"/>
<rect x="206.55" y="278.01" width="48.70" height="3.80" fill="#17457c" stroke="#081c38" stroke-width="0.7"/>
<rect x="280.65" y="277.66" width="11.90" height="3.50" fill="#17457c" stroke="#081c38" stroke-width="0.7"/>
<rect x="292.90" y="277.51" width="5.33" height="3.80" fill="#fff" stroke="#7a7a7a" stroke-width="0.6"/>
<rect x="298.58" y="277.66" width="11.90" height="3.50" fill="#17457c" stroke="#081c38" stroke-width="0.7"/>
<rect x="310.83" y="277.51" width="5.33" height="3.80" fill="#fff" stroke="#7a7a7a" stroke-width="0.6"/>
<rect x="316.51" y="277.66" width="11.90" height="3.50" fill="#17457c" stroke="#081c38" stroke-width="0.7"/>
<rect x="328.76" y="277.51" width="5.33" height="3.80" fill="#fff" stroke="#7a7a7a" stroke-width="0.6"/>
<text x="263.60" y="281.51" font-size="6.0" fill="#333" stroke="#333" stroke-width="0.1" text-anchor="start" font-weight="normal" font-style="normal" textLength="13.10" lengthAdjust="spacingAndGlyphs">ID10</text>
<polygon points="222.10,283.11 220.20,286.71 224.00,286.71" fill="#e2cc5e" stroke="#3b3412" stroke-width="0.7" stroke-linejoin="round"/>
<polygon points="317.40,283.11 315.50,286.71 319.30,286.71" fill="#e2cc5e" stroke="#3b3412" stroke-width="0.7" stroke-linejoin="round"/>
<rect x="83.45" y="288.95" width="171.80" height="3.80" fill="#17457c" stroke="#081c38" stroke-width="0.7"/>
<rect x="280.65" y="288.60" width="11.90" height="3.50" fill="#17457c" stroke="#081c38" stroke-width="0.7"/>
<rect x="292.90" y="288.45" width="5.33" height="3.80" fill="#fff" stroke="#7a7a7a" stroke-width="0.6"/>
<rect x="298.58" y="288.60" width="11.90" height="3.50" fill="#17457c" stroke="#081c38" stroke-width="0.7"/>
<rect x="310.83" y="288.45" width="5.33" height="3.80" fill="#fff" stroke="#7a7a7a" stroke-width="0.6"/>
<rect x="316.51" y="288.60" width="11.90" height="3.50" fill="#17457c" stroke="#081c38" stroke-width="0.7"/>
<rect x="328.76" y="288.45" width="5.33" height="3.80" fill="#fff" stroke="#7a7a7a" stroke-width="0.6"/>
<text x="263.60" y="292.45" font-size="6.0" fill="#333" stroke="#333" stroke-width="0.1" text-anchor="start" font-weight="normal" font-style="normal" textLength="13.10" lengthAdjust="spacingAndGlyphs">ID11</text>
<polygon points="209.60,294.05 207.70,297.65 211.50,297.65" fill="#e2cc5e" stroke="#3b3412" stroke-width="0.7" stroke-linejoin="round"/>
<polygon points="315.80,294.05 313.90,297.65 317.70,297.65" fill="#e2cc5e" stroke="#3b3412" stroke-width="0.7" stroke-linejoin="round"/>
<text x="12.10" y="304.60" font-size="6.0" fill="#333" stroke="#333" stroke-width="0.2" text-anchor="middle" font-weight="normal" font-style="normal" textLength="10.90" lengthAdjust="spacingAndGlyphs">−84</text>
<text x="47.00" y="304.60" font-size="6.0" fill="#333" stroke="#333" stroke-width="0.2" text-anchor="middle" font-weight="normal" font-style="normal" textLength="10.90" lengthAdjust="spacingAndGlyphs">−72</text>
<text x="82.00" y="304.60" font-size="6.0" fill="#333" stroke="#333" stroke-width="0.2" text-anchor="middle" font-weight="normal" font-style="normal" textLength="10.90" lengthAdjust="spacingAndGlyphs">−60</text>
<text x="117.00" y="304.60" font-size="6.0" fill="#333" stroke="#333" stroke-width="0.2" text-anchor="middle" font-weight="normal" font-style="normal" textLength="10.90" lengthAdjust="spacingAndGlyphs">−48</text>
<text x="152.60" y="304.60" font-size="6.0" fill="#333" stroke="#333" stroke-width="0.2" text-anchor="middle" font-weight="normal" font-style="normal" textLength="10.90" lengthAdjust="spacingAndGlyphs">−36</text>
<text x="187.90" y="304.60" font-size="6.0" fill="#333" stroke="#333" stroke-width="0.2" text-anchor="middle" font-weight="normal" font-style="normal" textLength="10.90" lengthAdjust="spacingAndGlyphs">−24</text>
<text x="222.70" y="304.60" font-size="6.0" fill="#333" stroke="#333" stroke-width="0.2" text-anchor="middle" font-weight="normal" font-style="normal" textLength="10.90" lengthAdjust="spacingAndGlyphs">−12</text>
<text x="280.20" y="304.60" font-size="6.0" fill="#333" stroke="#333" stroke-width="0.2" text-anchor="middle" font-weight="normal" font-style="normal">0</text>
<text x="316.00" y="304.60" font-size="6.0" fill="#333" stroke="#333" stroke-width="0.2" text-anchor="middle" font-weight="normal" font-style="normal">6</text>
<text x="351.50" y="304.60" font-size="6.0" fill="#333" stroke="#333" stroke-width="0.2" text-anchor="middle" font-weight="normal" font-style="normal">12</text>
<text x="388.20" y="304.60" font-size="6.0" fill="#333" stroke="#333" stroke-width="0.2" text-anchor="middle" font-weight="normal" font-style="normal">18</text>
<text x="423.20" y="304.60" font-size="6.0" fill="#333" stroke="#333" stroke-width="0.2" text-anchor="middle" font-weight="normal" font-style="normal">24</text>
<text x="459.40" y="304.60" font-size="6.0" fill="#333" stroke="#333" stroke-width="0.2" text-anchor="middle" font-weight="normal" font-style="normal">30</text>
<text x="495.60" y="304.60" font-size="6.0" fill="#333" stroke="#333" stroke-width="0.2" text-anchor="middle" font-weight="normal" font-style="normal">36</text>
<text x="153.70" y="316.60" font-size="6.2" fill="#333" stroke="#333" stroke-width="0.1" text-anchor="start" font-weight="normal" font-style="normal" textLength="59.30" lengthAdjust="spacingAndGlyphs">Pre treatment holidays</text>
<text x="323.80" y="316.80" font-size="6.2" fill="#333" stroke="#333" stroke-width="0.1" text-anchor="start" font-weight="normal" font-style="normal" textLength="62.50" lengthAdjust="spacingAndGlyphs">Post treatment holidays</text>
<text x="476.30" y="316.40" font-size="7.0" fill="#2a2a2a" stroke="#2a2a2a" stroke-width="0.15" text-anchor="start" font-weight="normal" font-style="italic" textLength="23.20" lengthAdjust="spacingAndGlyphs">(Months)</text>
<polygon points="453.30,254.70 451.30,258.50 455.30,258.50" fill="#e2cc5e" stroke="#3b3412" stroke-width="0.7" stroke-linejoin="round"/>
<text x="465.70" y="258.80" font-size="6.3" fill="#333" stroke="#333" stroke-width="0.1" text-anchor="start" font-weight="normal" font-style="normal" textLength="20.00" lengthAdjust="spacingAndGlyphs">PET-CT</text>
<rect x="443.3" y="263.6" width="19.4" height="3.6" fill="#fff" stroke="#333" stroke-width="0.6"/>
<text x="465.70" y="267.20" font-size="6.3" fill="#333" stroke="#333" stroke-width="0.1" text-anchor="start" font-weight="normal" font-style="normal" textLength="38.90" lengthAdjust="spacingAndGlyphs">OFF treatment</text>
<rect x="443.3" y="272.0" width="19.4" height="3.7" fill="#17457c" stroke="#222" stroke-width="0.5"/>
<text x="465.70" y="276.00" font-size="6.3" fill="#333" stroke="#333" stroke-width="0.1" text-anchor="start" font-weight="normal" font-style="normal" textLength="36.60" lengthAdjust="spacingAndGlyphs">ON treatment</text>
</svg></div>
</body></html>
